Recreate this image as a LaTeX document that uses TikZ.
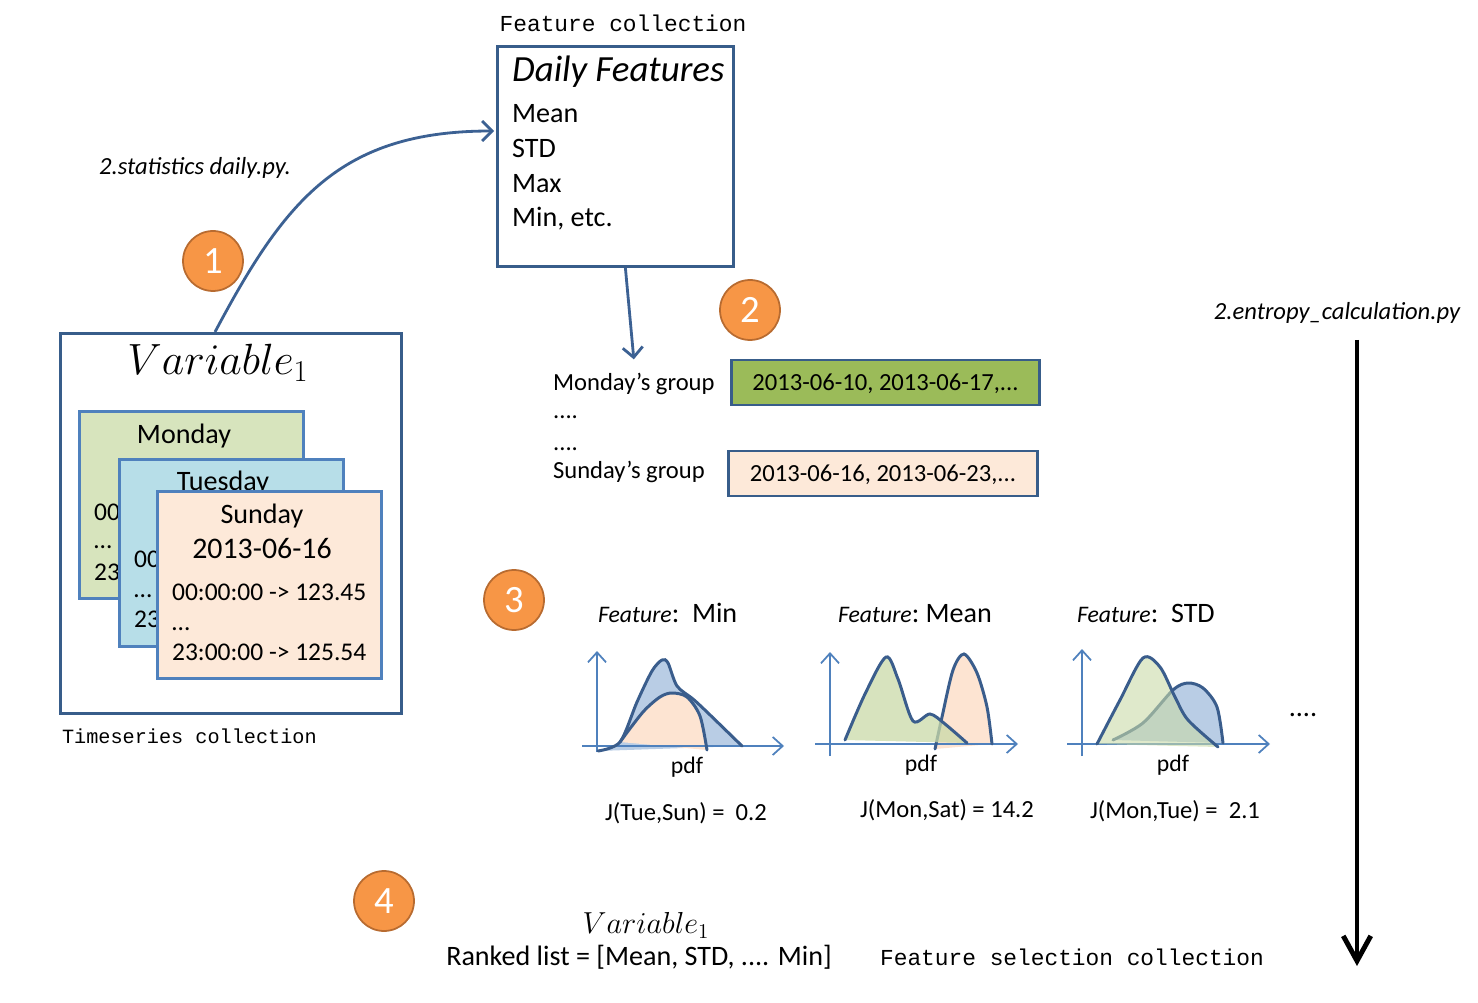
\documentclass[tikz,border=0pt]{standalone}
\usepackage{fontspec}
\setmainfont{Carlito}
\setmonofont{Liberation Mono}
\usetikzlibrary{calc,arrows.meta}
\definecolor{boxblue}{HTML}{385D8A}
\definecolor{cardblue}{HTML}{4F81BD}
\definecolor{flowblue}{HTML}{3C6193}
\definecolor{curveblue}{HTML}{3A5D8C}
\definecolor{circfill}{HTML}{F79646}
\definecolor{circline}{HTML}{B86B30}
\definecolor{monfill}{HTML}{D7E4BD}
\definecolor{tuefill}{HTML}{B7DEE8}
\definecolor{sunfill}{HTML}{FDE9D9}
\definecolor{grpgreen}{HTML}{9BBB59}
\definecolor{pdfblue}{HTML}{B9CDE5}
\definecolor{pdfpeach}{HTML}{FDE4D2}
\definecolor{pdfgreen}{HTML}{C9DAA8}
\newcommand{\txtsize}[1]{\fontsize{#1}{#1}\selectfont}

\begin{document}
\begin{tikzpicture}[x=0.02cm, y=-0.02cm, font=\txtsize{14},
	txt/.style={inner sep=1pt, text height=1.8ex, text depth=0pt},
	box/.style={draw=boxblue, line width=1.6pt, inner sep=0pt, anchor=north west},
	card/.style={draw=cardblue, line width=1.6pt, anchor=north west, minimum width=4.48cm, minimum height=3.74cm},
	grpbox/.style={draw=boxblue, line width=1.6pt, minimum width=6.17cm, minimum height=0.9cm, text height=1.8ex, text depth=0pt},
	numdot/.style={circle, fill=circfill, draw=circline, line width=1pt, minimum size=1.2cm, inner sep=0pt, text=white, font=\txtsize{22}},
	flow/.style={draw=flowblue, line width=1.6pt, -{Straight Barb[length=2mm, width=4mm]}},
	axis/.style={draw=cardblue, line width=1pt, -{Straight Barb[length=2mm, width=3.6mm]}},
	pdfline/.style={draw=curveblue, line width=1.7pt, line cap=round}]
			\useasboundingbox (0,0) rectangle (1478,1003);
			% feature collection
			\node[txt, font=\ttfamily\txtsize{13}] (fctitle) at (623,24) {Feature collection};
			\node[box, minimum width=4.72cm, minimum height=4.4cm] (featbox) at (496,45) {};
			\node[txt, anchor=west, font=\itshape\txtsize{21}] (dailyft) at (510,74) {Daily Features};
			\node[txt, anchor=west, font=\txtsize{16}] (fmean) at (510,115) {Mean};
			\node[txt, anchor=west, font=\txtsize{16}] (fstd) at (510,150) {STD};
			\node[txt, anchor=west, font=\txtsize{16}] (fmax) at (510,185) {Max};
			\node[txt, anchor=west, font=\txtsize{16}] (fmin) at (510,219) {Min, etc.};
			% timeseries collection
			\node[box, minimum width=6.82cm, minimum height=7.6cm] (varbox) at (59,332) {};
			\node[txt, font=\txtsize{23}] (vartitle) at (218,367) {$Variable_1$};
			\node[card, fill=monfill] (moncard) at (78,410) {};
			\node[txt, font=\txtsize{16}] (monname) at (184,436) {Monday};
			\node[txt, anchor=west, font=\txtsize{14.5}] (monfirst) at (92,513) {00};
			\node[txt, anchor=west, font=\txtsize{14.5}] (mondots) at (92,541) {\ldots};
			\node[txt, anchor=west, font=\txtsize{14.5}] (monlast) at (92,573) {23};
			\node[card, fill=tuefill] (tuecard) at (118,458) {};
			\node[txt, font=\txtsize{16}] (tuename) at (223,483) {Tuesday};
			\node[txt, anchor=west, font=\txtsize{14.5}] (tuefirst) at (132,560) {00};
			\node[txt, anchor=west, font=\txtsize{14.5}] (tuedots) at (132,590) {\ldots};
			\node[txt, anchor=west, font=\txtsize{14.5}] (tuelast) at (132,620) {23};
			\node[card, fill=sunfill] (suncard) at (156,490) {};
			\node[txt, font=\txtsize{16}] (sunname) at (262,516) {Sunday};
			\node[txt, font=\txtsize{17}] (sundate) at (262,551) {2013-06-16};
			\node[txt, anchor=west, font=\txtsize{14.5}] (sunfirst) at (170,593) {00:00:00 -> 123.45};
			\node[txt, anchor=west, font=\txtsize{14.5}] (sundots) at (170,623) {\ldots};
			\node[txt, anchor=west, font=\txtsize{14.5}] (sunlast) at (170,653) {23:00:00 -> 125.54};
			\node[txt, anchor=west, font=\ttfamily\txtsize{11.5}] (tstitle) at (60,736) {Timeseries collection};
			% step 1
			\node[numdot] (num1) at (213,261) {1};
			\node[txt, font=\itshape\txtsize{14}] (statpy) at (195,167) {2.statistics daily.py.};
			\draw[flow] ($(varbox.north west)+(156,0)$) .. controls +(70,-132) and +(-154,0) .. ($(featbox.north west)+(-2,86)$);
			% step 2
			\node[numdot] (num2) at (750,310) {2};
			\node[txt, anchor=west] (mongrp) at (551,383) {Monday’s group};
			\node[txt, anchor=west] (grpdotsa) at (551,411) {....};
			\node[txt, anchor=west] (grpdotsb) at (551,443) {....};
			\node[txt, anchor=west] (sungrp) at (551,471) {Sunday’s group};
			\node[grpbox, fill=grpgreen] (mondates) at (885.5,382.5) {2013-06-10, 2013-06-17,...};
			\node[grpbox, fill=sunfill] (sundates) at (883,473.5) {2013-06-16, 2013-06-23,...};
			\draw[flow] ($(featbox.south)+(10,0)$) -- ($(mongrp.north)+(0,-14)$);
			% step 3
			\node[numdot] (num3) at (514,600) {3};
			\begin{scope}[shift={(597,746)}]
				\fill[pdfblue] plot[smooth] coordinates {(1,5) (23,-4) (40,-44) (55,-75) (65,-86) (71,-83) (80,-60) (96,-47) (110,-34) (145,0)} -- cycle;
				\fill[pdfpeach] plot[smooth] coordinates {(23,-4) (46,-34) (63,-49) (75,-53) (90,-49) (103,-30) (110,4)} -- cycle;
				\draw[axis] (0,6) -- (0,-95);
				\draw[axis] (-15,0) -- (187,0);
				\draw[pdfline] plot[smooth] coordinates {(1,5) (23,-4) (40,-44) (55,-75) (65,-86) (71,-83) (80,-60) (96,-47) (110,-34) (145,0)};
				\draw[pdfline] plot[smooth] coordinates {(23,-4) (46,-34) (63,-49) (75,-53) (90,-49) (103,-30) (110,4)};
			\end{scope}
			\begin{scope}[shift={(830,744)}]
				\fill[pdfpeach] plot[smooth] coordinates {(105,5) (112,-27) (123,-74) (134,-90) (147,-71) (157,-37) (162,0)} -- cycle;
				\draw[axis] (0,12) -- (0,-92);
				\draw[axis] (-15,0) -- (188,0);
				\draw[pdfline] plot[smooth] coordinates {(105,5) (112,-27) (123,-74) (134,-90) (147,-71) (157,-37) (162,0)};
				\fill[pdfgreen, opacity=.75] plot[smooth] coordinates {(15,-4) (35,-50) (56,-87) (68,-65) (83,-23) (100,-30) (115,-20) (137,-1)} -- cycle;
				\draw[pdfline] plot[smooth] coordinates {(15,-4) (35,-50) (56,-87) (68,-65) (83,-23) (100,-30) (115,-20) (137,-1)};
			\end{scope}
			\begin{scope}[shift={(1082,744)}]
				\fill[pdfblue] plot[smooth] coordinates {(31,-4) (61,-21) (91,-54) (106,-61) (121,-56) (135,-37) (141,-1)} -- cycle;
				\draw[axis] (0,12) -- (0,-95);
				\draw[axis] (-15,0) -- (188,0);
				\draw[pdfline] plot[smooth] coordinates {(31,-4) (61,-21) (91,-54) (106,-61) (121,-56) (135,-37) (141,-1)};
				\fill[pdfgreen, opacity=.6] plot[smooth] coordinates {(15,0) (38,-44) (61,-86) (78,-77) (93,-47) (106,-24) (136,3)} -- cycle;
				\draw[pdfline] plot[smooth] coordinates {(15,0) (38,-44) (61,-86) (78,-77) (93,-47) (106,-24) (136,3)};
			\end{scope}
			\node[txt, anchor=west, font=\txtsize{16}] (ftmin) at (596,615) {{\itshape\txtsize{13.5}Feature}:\ \ Min};
			\node[txt, anchor=west, font=\txtsize{16}] (ftmean) at (836,615) {{\itshape\txtsize{13.5}Feature}:\ Mean};
			\node[txt, anchor=west, font=\txtsize{16}] (ftstd) at (1075,615) {{\itshape\txtsize{13.5}Feature}:\ \ STD};
			\node[txt, font=\txtsize{13.5}] (pdfmin) at (687,766) {pdf};
			\node[txt, font=\txtsize{13.5}] (pdfmean) at (921,764) {pdf};
			\node[txt, font=\txtsize{13.5}] (pdfstd) at (1173,764) {pdf};
			\node[txt] (jmin) at (686,813) {J(Tue,Sun) = \ 0.2};
			\node[txt] (jmean) at (947,810) {J(Mon,Sat) = 14.2};
			\node[txt] (jstd) at (1175,811) {J(Mon,Tue) = \ 2.1};
			\node[txt, font=\txtsize{16}] (moredots) at (1303,709) {....};
			% step 4
			\node[numdot] (num4) at (384,901) {4};
			\node[txt, font=\txtsize{17.5}] (rankvar) at (646,926) {$Variable_1$};
			\node[txt, font=\txtsize{16}] (ranklist) at (639,958) {Ranked list = [Mean, STD, .... Min]};
			\node[txt, font=\ttfamily\txtsize{13}] (fstitle) at (1072,958) {Feature selection collection};
			% entropy calculation
			\node[txt, font=\itshape\txtsize{14}] (entpy) at (1337,312) {2.entropy\_calculation.py};
			\coordinate (arrtop) at (1357,340);
			\coordinate (arrend) at (1357,966);
			\draw[line width=2.8pt, -{Straight Barb[length=5mm, width=5.5mm]}] (arrtop) -- (arrend);
		\end{tikzpicture}
\end{document}
